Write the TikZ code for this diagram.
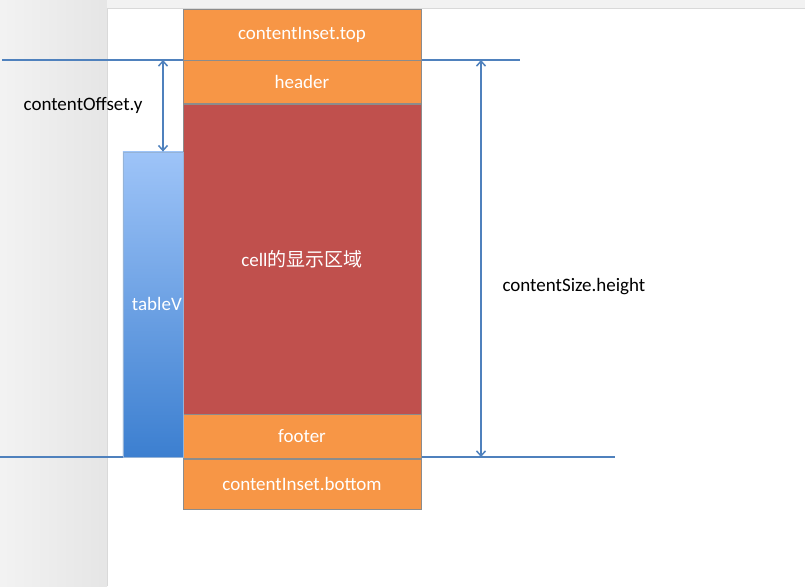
\documentclass[tikz,border=0pt]{standalone}
\usepackage{fontspec}
\setmainfont{Carlito}
\newfontfamily\cjk{Noto Sans CJK SC}
\usetikzlibrary{positioning,arrows.meta}
\definecolor{msorange}{HTML}{F79646}
\definecolor{msred}{HTML}{C0504D}
\definecolor{msblue}{HTML}{4F81BD}
\definecolor{tvtop}{HTML}{9EC4F8}
\definecolor{tvbot}{HTML}{3C7FD0}

\begin{document}
\begin{tikzpicture}[x=1pt, y=-1pt,
  box/.style={draw=black!45, fill=msorange, minimum width=238pt,
              inner sep=0pt, text=white, font=\fontsize{19}{22}\selectfont},
  guide/.style={msblue, line width=1.5pt},
  arr/.style={{Straight Barb[length=5pt,width=9pt]}-{Straight Barb[length=5pt,width=9pt]},
              msblue, line width=1.5pt},
  lbl/.style={font=\fontsize{19}{22}\selectfont},
]
\useasboundingbox (0,0) rectangle (805,586);

% ---- page background ----
\fill[left color=black!5, right color=black!10] (0,0) rectangle (107,586);
\fill[black!5] (107,0) rectangle (805,8);
\draw[black!15] (107,586) -- (107,8) -- (805,8);

% ---- guide lines (behind the boxes) ----
\coordinate (tl) at (2,60);
\coordinate (tr) at (520,60);
\coordinate (bl) at (0,457);
\coordinate (br) at (615,457);
\draw[guide] (tl) -- (tr);
\draw[guide] (bl) -- (br);

% ---- content stack ----
\node[box, minimum height=51pt, anchor=north] (instop) at (302,9) {contentInset.top};
\node[box, minimum height=43pt, below=0pt of instop] (header) {header};
\node[box, fill=msred, minimum height=310pt, below=0pt of header] (cell)
  {cell{\cjk 的显示区域}};
\node[box, minimum height=44pt, below=0pt of cell] (footer) {footer};
\node[box, minimum height=50pt, below=0pt of footer] (insbot) {contentInset.bottom};

% ---- table view ----
\node[draw=msblue!60, top color=tvtop, bottom color=tvbot, text=white,
      minimum height=305pt, text width=58pt, inner sep=1pt, align=right,
      font=\fontsize{19}{22}\selectfont, anchor=south east] (tv) at (183,457) {tableV};

% ---- offset arrow ----
\coordinate (offA) at (163,60);
\draw[arr] (offA) -- (offA |- tv.north);
\node[lbl] (offlbl) at (83,105) {contentOffset.y};

% ---- size arrow ----
\coordinate (szA) at (481,60);
\draw[arr] (szA) -- (szA |- br);
\node[lbl, anchor=west] (szlbl) at (499,287) {contentSize.height};

\end{tikzpicture}
\end{document}
